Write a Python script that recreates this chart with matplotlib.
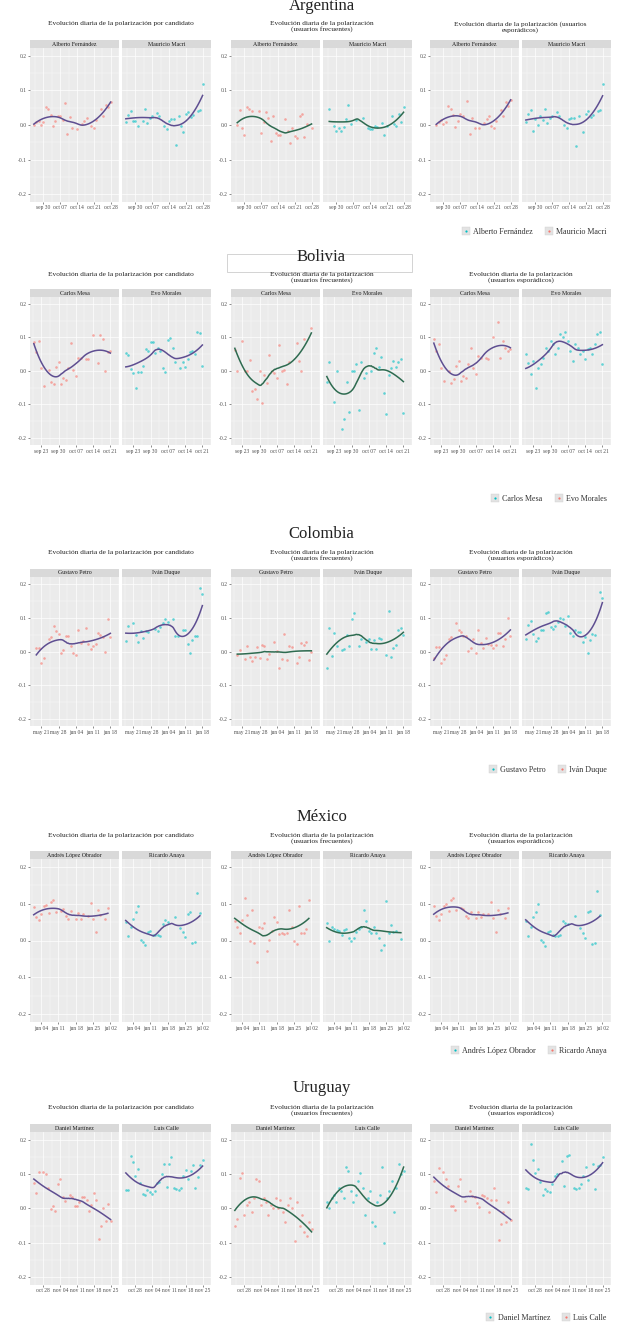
import matplotlib
matplotlib.use('Agg')
import matplotlib.pyplot as plt
import matplotlib.dates as mdates
import numpy as np
import pandas as pd
from matplotlib.lines import Line2D
from matplotlib.patches import Rectangle

nan = np.nan
W, H = 634, 1331
FONT = 'Liberation Serif'

# ---------------- data (polarisation values in hundredths, one per day) ----------------
arg_start, arg_days = '2019-09-26', 33
arg_ticks = ['2019-09-30', '2019-10-07', '2019-10-14', '2019-10-21', '2019-10-28']
arg_ticklabels = ['sep 30', 'oct 07', 'oct 14', 'oct 21', 'oct 28']
arg_names = ['Alberto Fernández', 'Mauricio Macri']
arg_p1_a = [0, 1, 1.2, 0, 1, 5.3, 4.5, 3, -0.4, 1.2, 2.7, 2.5, 1.5, 6.5, -2.6, 2.3, -0.9, nan, -1.1, nan,
            0.4, 1.3, 1.9, nan, -0.4, -0.9, 1.5, nan, 4.5, 2.5, 5.8, 5.1, 6.8]
arg_p1_b = [1.0, 3, 4.2, 1.3, 1.3, -0.4, nan, 1.3, 4.5, 0.6, 2, 2.7, nan, 3.4, 2.7, nan, -0.4, -1.1, 1.3, 1.7,
            1.7, -5.9, 2.5, -0.4, -1.9, 3.2, 3.9, 2.3, 3, nan, 4.1, 4.4, 11.8]
arg_p2_a = [nan, 0, 4.4, -0.9, -2.8, 5.3, 4.6, 4.2, nan, nan, 4.1, -2.3, 0.8, 3.9, 1.9, -4.7, 2.5, -2.3, -2.8, -2.8,
            nan, 1.7, -1.8, -5.3, -0.9, -3.2, -3.7, 2.5, 3.2, -3.4, 0.4, nan, -0.9]
arg_p2_b = [nan, 4.7, nan, -0.2, -1.6, -0.9, -1.6, -0.6, 1.8, 5.7, 0.4, nan, 1.5, nan, nan, 2, nan, -0.9, -1.1, -1.3,
            -0.2, -0.7, nan, 0.6, -3, -0.4, nan, 2.7, 0.4, -0.2, 3.1, 0.8, 5.3]
arg_p3_a = [nan, 0, 1, 1.4, 0.2, 1, 5.4, 4.6, 2.8, -0.5, 1.1, 3.2, 2.5, nan, 7, -2.5, 2.1, -0.8, nan, -1,
            nan, 0.5, 1.8, 2.5, -0.3, -0.8, 1.1, nan, 4.4, 2.5, 6.8, 5.6, 7.3]
arg_p3_b = [1, 3.2, 4.4, -1.7, 1.6, -0.1, 2.5, 1.4, 4.6, 0.7, 2.1, 2.7, nan, 3.8, 2.7, nan, -0.1, -0.9, 1.6, 1.9,
            2.1, -6.1, 2.7, nan, -2, 3.3, 4.2, 2.4, 3, nan, 4.2, 4.4, 11.8]

bol_start, bol_days = '2019-09-20', 32
bol_ticks = ['2019-09-23', '2019-09-30', '2019-10-07', '2019-10-14', '2019-10-21']
bol_ticklabels = ['sep 23', 'sep 30', 'oct 07', 'oct 14', 'oct 21']
bol_names = ['Carlos Mesa', 'Evo Morales']
bol_p1_a = [8.8, 5.6, 9, 0.8, -4.4, nan, 0.3, -3.2, -4, 1.3, 2.8, -4, -2, -2.7, 1, 8.3, 0.3, -1.4, 4, 4,
            nan, 3.6, 3.5, nan, 10.6, nan, 2.5, 10.8, 9.6, 0, 5.8, 6]
bol_p1_b = [5.3, 4.8, 0.6, -0.7, -5, -0.4, -0.4, 1.6, 6.6, 6, 8.6, 8.6, 5.3, 7, 6, 1, -0.2, 9.3, 9.8, 6.8,
            2.6, nan, 0.8, 2.6, 1.3, 3.5, 5.6, 6, 5, 11.6, 11.3, 1.6]
bol_p2_a = [6.3, 0, nan, 9, 0, 0, 3.3, -6, -5.4, -8.4, 0, -9.7, -1.2, -3.7, 4.8, 0, -0.5, -2, 7.8, 0,
            0.3, -4, 2.6, nan, nan, 8.3, 3, 0, 9.6, nan, nan, 12.8]
bol_p2_b = [-3.2, 2.8, nan, -9.2, 0, nan, -17.2, -14.2, -3.4, -12.2, 0, 0, 2, -11.7, 2.6, -2, -0.7, nan, 0, 5.3,
            7, 1.3, 4.2, -6.7, -12.7, -1.2, 1, 3, 1.3, 2.8, 3.6, -12.4]
bol_p3_a = [9.5, 6, 8, 1, -3, nan, 0, -3.5, -2.5, 1.5, 3, -3, -1.5, -2, 2, 7, 1, -1, 4.5, 4,
            nan, 4, 3.5, nan, 10, nan, 14.5, 4, 9, 7, 6, 6.5]
bol_p3_b = [5, 2.5, -1, 3, -5, 1, 2, 4, 7, 6, 9, 8, 5, 7, 11, 10, 11.5, 9, 6, 3,
            8, 7, 5, 6, 3.5, 6.5, 7, 5, 8, 11, 11.5, 2]

col_start, col_days = '2018-05-18', 32
col_ticks = ['2018-05-21', '2018-05-28', '2018-06-04', '2018-06-11', '2018-06-18']
col_ticklabels = ['may 21', 'may 28', 'jun 04', 'jun 11', 'jun 18']
col_names = ['Gustavo Petro', 'Iván Duque']
col_p1_a = [nan, 1, 1, -3.5, -2, nan, 3.7, 4.3, 7.5, 6, 5.3, -0.3, 0.5, 4.5, 4.5, 1.7, -0.3, -1, 6.3, 2.5,
            3, 7, 2.3, 0.7, 1.7, 2.3, 5.5, 5, 4.3, 0, 9.7, 4.3]
col_p1_b = [3.2, 7.7, nan, 8.5, 5, 2.8, 6.2, 4, 6.2, 5.7, nan, nan, 6.7, 6, 7.3, 8.3, 9.7, 8.7, nan, 9.7,
            4.5, 4.5, nan, 6.3, 6.3, 2.3, -0.3, 3.3, 4.7, 4.7, 18.7, 17]
col_p2_a = [nan, -1.1, 0.5, nan, -2.1, 1.5, -1.5, -2.8, -1.5, 1.2, -1.8, 1.9, 1.7, -2.1, -0.8, nan, 2.9, 0.2, -4.8, -2.3,
            5.2, -2.5, 1.7, 1.2, nan, -3.5, -1.7, 2.5, 1.9, 2.7, -2.5, 0]
col_p2_b = [-5, 6.9, -1.3, 5.5, 1.5, nan, 0.5, 0.7, 4.9, 1.5, 9.7, 11.5, nan, 1.7, 3.7, nan, 2.7, 3.7, 0.7, 3.5,
            0.7, 3.9, 3.7, nan, -1.1, 11.9, -1.5, 0.9, 2, 6.5, 6.9, 4.9]
col_p3_a = [-1.8, 1.2, 1.2, -3.5, -2.1, -1, 3.7, 4.2, nan, 8.5, 6.4, 5.7, 4.7, 4.7, 0.2, 0.9, 3.7, -0.5, 6.5, 2.5,
            0.9, 3.9, 2.2, 1.9, 0.9, 1.9, 5.5, 5.5, 1.7, 3.7, 9.9, 4.5]
col_p3_b = [3.7, 7.9, 8.9, 5.2, 3.2, 3.9, 6.5, 6.5, 11.5, 11.7, 7.2, 6.7, 7.5, 8.7, 9.9, 9.7, 7.5, 10.5, 5.5, 4.5,
            6.5, 5.7, 5.9, 2.7, 4.2, -0.3, 3.5, 5.2, 4.9, nan, 17.5, 16]

mex_start, mex_days = '2018-06-01', 31
mex_ticks = ['2018-06-04', '2018-06-11', '2018-06-18', '2018-06-25', '2018-07-02']
mex_ticklabels = ['jun 04', 'jun 11', 'jun 18', 'jun 25', 'jul 02']
mex_names = ['Andrés López Obrador', 'Ricardo Anaya']
mex_p1_a = [9, 6.3, 5.7, 7.2, 9.3, 9.6, 7.5, 10.5, 10.9, 7.8, nan, 8.1, 8.7, 6.8, 5.9, 7.9, nan, 5.9, 7.5, 5.9,
            7.2, nan, 6.8, 10.2, 5.9, 2.3, 8.4, 7, nan, 5.9, 8.8]
mex_p1_b = [5, 1.1, 3.6, 5.9, 7.8, 9.3, 0.2, -0.5, -1.2, 2.3, 2.5, 1.4, 1.4, 1.4, 1.3, 4.5, 5.7, 5, nan, nan,
            6.4, nan, 3.4, 2.3, 1, 7.2, 7.8, -0.7, -0.5, 13, 7.5]
mex_p2_a = [5.2, 3.6, 2, 5.7, 11.6, 7, 0, 8.4, -0.7, -5.8, 3.6, 3.4, 4.7, -2.8, 0.2, 2.6, 6.3, 5, 1.7, 2,
            1.7, 2, 8.3, 3.8, 0, -1, 9.3, 2, 2, 3.2, 10.9]
mex_p2_b = [4.7, 0, 3.6, 3.2, 2.9, 2.6, 1.4, 2.9, 3.2, 0.8, -0.1, 0.8, 2.3, 3.2, 3.8, 8.4, 5.2, 2.6, 2, 3.6,
            2, 0.6, -2.6, -1.2, 10.7, 2, 4.3, 2.3, 2.6, nan, 0.4]
mex_p3_a = [9.3, 6.8, 5.7, 7.2, 9.3, 9.8, 8.1, 10.9, 11.6, 8.4, nan, 8.9, 8.7, 6.8, 6.1, 7.8, nan, 6.1, 7.8, 6.3,
            7.2, nan, 7.2, 10.5, 6.1, 2.3, 8.4, 7.2, nan, 6.1, 8.9]
mex_p3_b = [5.2, 1.1, 3.6, 6.3, 7.8, 9.8, 0.2, -0.5, -1.6, 2.3, 2.6, 1.4, 1.1, 1.1, 1.4, 5.4, 4.7, 4.5, nan, nan,
            6.8, nan, 3.4, 2, 0.8, 7.8, 8.1, -1, -0.7, 13.4, 7]

uru_start, uru_days = '2019-10-24', 33
uru_ticks = ['2019-10-28', '2019-11-04', '2019-11-11', '2019-11-18', '2019-11-25']
uru_ticklabels = ['oct 28', 'nov 04', 'nov 11', 'nov 18', 'nov 25']
uru_names = ['Daniel Martínez', 'Luis Calle']
uru_p1_a = [7.5, 4.5, 10.6, nan, 10.8, 10, 6.1, -0.1, 0.8, -0.6, 7.1, 8.6, 3.3, 2.1, nan, 3.8, 3.3, 0.6, 0.6, 1.8,
            3.3, 3.3, 2.5, -0.8, 0.9, 4.5, 2.5, -8.9, -5, 0.2, -3.7, 1.2, -3.7]
uru_p1_b = [5.5, 5.3, 15.3, 13.6, 9.4, 11.4, 7.5, 4.1, 3.8, 5.5, 4.8, 4.3, 5.1, 7.5, 7.7, 10, 12.9, 6.3, 12.9, 14.9,
            6.1, 5.8, 5.5, 6.1, 9.4, 11.2, 8.7, 11, 12.6, 6.1, 9.2, 12.6, 14.1]
uru_p2_a = [-5, -3, 9, 10.5, -2, 1, 2, -1, 3, 8.5, 8, 1, 3, 2, -2, 1, 0, 3, 0, 2.5,
            -1, -4, 1, 3, 0, -9.5, 2, -5, -2, -7, -8, -4, -6]
uru_p2_b = [2, 0, 3, 4, 2, 6, 5, 3, 12, 11, 5, 2, 4, 8, 10.5, 6, -2, 3, 5, -4,
            -5, 2, 4, 12, -10, 3, 5, 8, -1, 6, 13, 10, 11]
uru_p3_a = [8, 4.9, 11.7, nan, 10.8, 8.7, 6.5, 0.7, 0.8, -0.5, 6.5, 8.5, nan, 2.1, nan, 5.1, 3.6, 3.4, 1.7, 0.3,
            3.9, 3.6, 3.2, -1, 2.4, 6, 2.6, -9.2, -4.6, -1, -3.9, 1.9, -3.4]
uru_p3_b = [6.1, 5.8, 18.7, 14.3, 10.4, 11.4, 7.8, 3.9, 5.8, 5.1, 4.9, 7.1, 9.4, 10, nan, 13.9, 6.5, 15.2, 15.5, nan,
            6.1, 5.8, 6.1, 7.1, 9.4, 12.1, 8.4, nan, 12.9, 5.8, 12.3, 12.6, 14.9]

sub_std = ['Evolución diaria de la polarización por candidato',
           'Evolución diaria de la polarización\n(usuarios frecuentes)',
           'Evolución diaria de la polarización\n(usuarios esporádicos)']
sub_arg = [sub_std[0], sub_std[1], 'Evolución diaria de la polarización (usuarios\nesporádicos)']
yticks = [-0.2, -0.1, 0.0, 0.1, 0.2]

sections = [
    dict(name='Argentina', start=arg_start, days=arg_days, ticks=arg_ticks, labels=arg_ticklabels,
         cands=arg_names, panels=[(arg_p1_a, arg_p1_b), (arg_p2_a, arg_p2_b), (arg_p3_a, arg_p3_b)], subs=sub_arg),
    dict(name='Bolivia', start=bol_start, days=bol_days, ticks=bol_ticks, labels=bol_ticklabels,
         cands=bol_names, panels=[(bol_p1_a, bol_p1_b), (bol_p2_a, bol_p2_b), (bol_p3_a, bol_p3_b)], subs=sub_std),
    dict(name='Colombia', start=col_start, days=col_days, ticks=col_ticks, labels=col_ticklabels,
         cands=col_names, panels=[(col_p1_a, col_p1_b), (col_p2_a, col_p2_b), (col_p3_a, col_p3_b)], subs=sub_std),
    dict(name='México', start=mex_start, days=mex_days, ticks=mex_ticks, labels=mex_ticklabels,
         cands=mex_names, panels=[(mex_p1_a, mex_p1_b), (mex_p2_a, mex_p2_b), (mex_p3_a, mex_p3_b)], subs=sub_std),
    dict(name='Uruguay', start=uru_start, days=uru_days, ticks=uru_ticks, labels=uru_ticklabels,
         cands=uru_names, panels=[(uru_p1_a, uru_p1_b), (uru_p2_a, uru_p2_b), (uru_p3_a, uru_p3_b)], subs=sub_std),
]

# ---------------- layout (pixels) ----------------
# title y, subtitle first-line y, pixel y of +0.2 and -0.2, legend y
layout = [(6, 25, 56, 194, 232), (257, 276, 304, 438, 499), (534, 554, 584, 719, 770),
          (817, 837, 867, 1014, 1051), (1088, 1109, 1140, 1277, 1318)]
panel_left = [30, 231, 430]
facet_w, facet_gap, strip_h = 89, 3, 8
ypad = 0.022

PINK, TEAL = '#F8766D', '#00BFC4'
PURPLE, GREEN = '#5E4E91', '#2E6B50'
BG, STRIP = '#EBEBEB', '#D9D9D9'


def loess(x, y, span=0.75, num=80):
    m = ~np.isnan(y)
    x, y = x[m], y[m]
    k = int(np.ceil(span * len(x)))
    grid = np.linspace(x.min(), x.max(), num)
    fit = []
    for g in grid:
        d = np.abs(x - g)
        h = np.sort(d)[k - 1]
        w = np.clip(1 - (d / h) ** 3, 0, None) ** 3
        c = np.polyfit(x - g, y, 2, w=np.sqrt(w))
        fit.append(c[-1])
    return grid, np.array(fit)


def px_axes(fig, l, t, w, h):
    return fig.add_axes([l / W, 1 - (t + h) / H, w / W, h / H])


fig = plt.figure(figsize=(W / 100, H / 100), dpi=100)

for sec, (ty, sy, y02, ym02, ly) in zip(sections, layout):
    dates = pd.date_range(sec['start'], periods=sec['days'])
    xd = mdates.date2num(dates)
    span = xd[-1] - xd[0]
    xlim = (xd[0] - 0.05 * span, xd[-1] + 0.05 * span)
    tick_x = mdates.date2num(pd.to_datetime(sec['ticks']))
    minor_x = np.concatenate([[tick_x[0] - 3.5], tick_x + 3.5])
    scale = (ym02 - y02) / 0.4
    top = y02 - ypad * scale
    height = (0.4 + 2 * ypad) * scale

    if sec['name'] == 'Bolivia':
        fig.add_artist(Rectangle((227 / W, 1 - 272 / H), 185 / W, 18 / H, transform=fig.transFigure,
                                 facecolor='white', edgecolor='#CCCCCC', lw=0.6))
    fig.text(0.5 * (231 + 412) / W, 1 - ty / H, sec['name'], ha='center', va='center',
             fontsize=12, family=FONT, color='#222222')

    for p, (pl, pair) in enumerate(zip(panel_left, sec['panels'])):
        pcenter = pl + facet_w + facet_gap / 2
        fig.text(pcenter / W, 1 - (sy - 4) / H, sec['subs'][p], ha='center', va='top',
                 fontsize=5.3, family=FONT, color='#222222', linespacing=1.05)
        line_c = GREEN if p == 1 else PURPLE
        for f, (vals, pc) in enumerate(zip(pair, [PINK, TEAL])):
            left = pl + f * (facet_w + facet_gap)
            ax = px_axes(fig, left, top, facet_w, height)
            sax = px_axes(fig, left, top - strip_h, facet_w, strip_h)
            sax.set_facecolor(STRIP)
            sax.set_xticks([])
            sax.set_yticks([])
            for s in sax.spines.values():
                s.set_visible(False)
            sax.text(0.5, 0.45, sec['cands'][f], ha='center', va='center', fontsize=4.2,
                     family=FONT, color='#1A1A1A', transform=sax.transAxes)

            y = np.array(vals, dtype=float) / 100
            ax.set_facecolor(BG)
            ax.scatter(xd, y, s=3.5, color=pc, alpha=0.6, linewidths=0, zorder=3)
            gx, gy = loess(xd, y)
            ax.plot(gx, gy, color=line_c, lw=1.1, zorder=4)
            ax.set_xlim(*xlim)
            ax.set_ylim(-0.2 - ypad, 0.2 + ypad)
            ax.set_xticks(tick_x)
            ax.set_xticklabels(sec['labels'])
            ax.set_xticks(minor_x, minor=True)
            ax.set_yticks(yticks)
            ax.set_yticks([-0.15, -0.05, 0.05, 0.15], minor=True)
            ax.yaxis.set_major_formatter(matplotlib.ticker.FormatStrFormatter('%.1f'))
            ax.grid(which='major', color='white', lw=0.5)
            ax.grid(which='minor', color='white', lw=0.25)
            ax.set_axisbelow(True)
            for s in ax.spines.values():
                s.set_visible(False)
            ax.tick_params(which='major', length=1.5, width=0.4, color='#333333', pad=1,
                           labelsize=4, labelcolor='#4D4D4D')
            ax.tick_params(which='minor', length=0)
            for lab in ax.get_xticklabels() + ax.get_yticklabels():
                lab.set_family(FONT)
            if f == 1:
                ax.tick_params(axis='y', left=False, labelleft=False)

    handles = [(Line2D([], [], ls='', marker='s', ms=5.5, mfc='#E3E3E3', mec='#CFCFCF', mew=0.3),
                Line2D([], [], ls='', marker='o', ms=1.6, mfc=c, mec='none')) for c in [TEAL, PINK]]
    fig.legend(handles, sec['cands'], loc='center right', bbox_to_anchor=(614 / W, 1 - ly / H),
               ncol=2, frameon=False, handlelength=0.8, handletextpad=0.5, columnspacing=1.6,
               prop={'family': FONT, 'size': 5.8}, labelcolor='#333333')

fig.savefig('out.png', dpi=100)
